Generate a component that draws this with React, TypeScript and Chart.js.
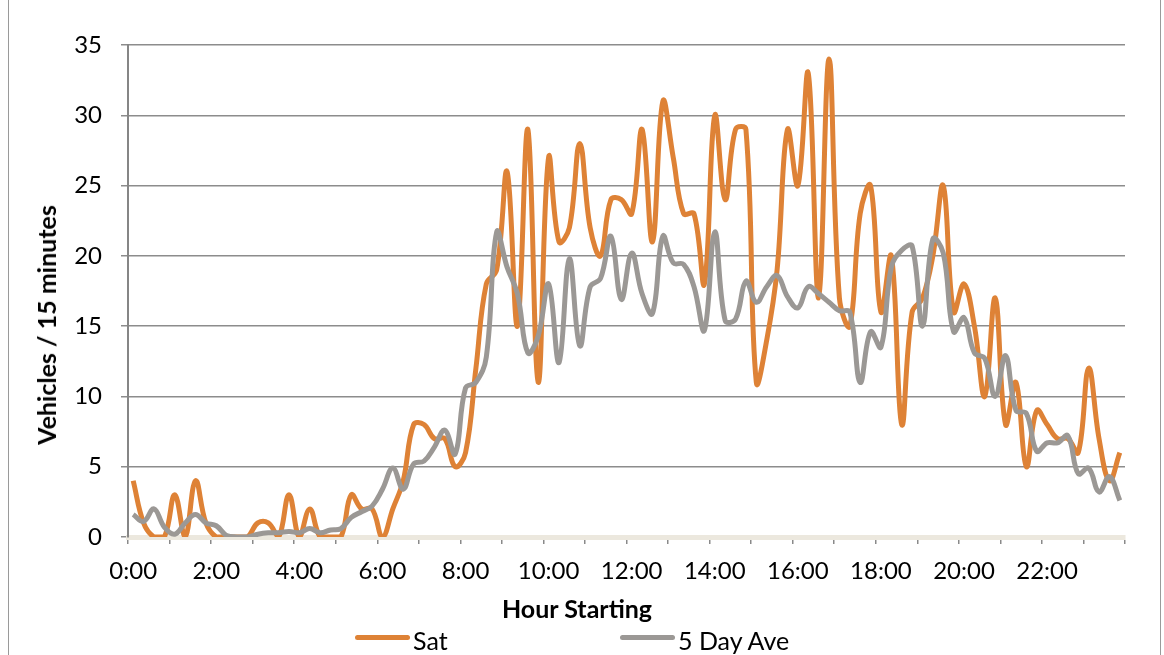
import React, { useEffect, useRef } from 'react';
import { Chart, registerables } from 'chart.js';

Chart.register(...registerables);

// 15-minute categories for one day
const hourLabels = ['0', '1', '2', '3', '4', '5', '6', '7', '8', '9', '10', '11', '12', '13', '14', '15', '16', '17', '18', '19', '20', '21', '22', '23'];
const quarterLabels = ['00', '15', '30', '45'];
const categories: string[] = [];
hourLabels.forEach((h) => quarterLabels.forEach((q) => categories.push(`${h}:${q}`)));

// Vehicles per 15 minutes, Saturday
const satValues = [
  4, 1, 0, 0, 3, 0, 4, 1, 0, 0,
  0, 0, 1, 1, 0, 3, 0, 2, 0, 0,
  0, 3, 2, 2, 0, 2, 4, 8, 8, 7,
  7, 5, 6, 12, 18, 19, 26, 15, 29, 11,
  27, 21, 22, 28, 22, 20, 24, 24, 23, 29,
  21, 31, 27, 23, 23, 18, 30, 24, 29, 29,
  11, 14, 19, 29, 25, 33, 17, 34, 17, 15,
  23, 25, 16, 20, 8, 16, 17, 20, 25, 16,
  18, 15, 10, 17, 8, 11, 5, 9, 8, 7,
  7, 6, 12, 7, 4, 6,
];

// Vehicles per 15 minutes, 5 day average
const fiveDayAveValues = [
  1.6, 1.1, 2.0, 0.7, 0.2, 1.0, 1.6, 1.0, 0.8, 0.1,
  0, 0, 0.2, 0.3, 0.3, 0.4, 0.3, 0.6, 0.3, 0.5,
  0.6, 1.4, 1.8, 2.2, 3.4, 4.9, 3.4, 5.2, 5.4, 6.4,
  7.6, 5.9, 10.6, 11.0, 12.8, 21.7, 19.2, 17.3, 13.1, 14.3,
  18.0, 12.4, 19.8, 13.6, 17.8, 18.4, 21.4, 16.9, 20.2, 17.3,
  15.9, 21.4, 19.5, 19.4, 17.8, 14.7, 21.7, 15.4, 15.5, 18.2,
  16.7, 17.8, 18.6, 17.1, 16.3, 17.8, 17.3, 16.7, 16.1, 16.0,
  11.0, 14.6, 13.5, 19.2, 20.4, 20.7, 15.0, 21.2, 20.2, 14.6,
  15.6, 13.1, 12.7, 10.0, 12.9, 9.0, 8.8, 6.1, 6.7, 6.7,
  7.2, 4.5, 4.9, 3.2, 4.3, 2.6,
];

const yTicks = [0, 5, 10, 15, 20, 25, 30, 35];
const seriesNames = ['Sat', '5 Day Ave'];
const xTitle = 'Hour Starting';
const yTitle = 'Vehicles / 15 minutes';

const ORANGE = '#DE8236';
const GRAY = '#9B9895';
const FONT = 'Lato, "Open Sans", sans-serif';

export default function App() {
  const canvasRef = useRef<HTMLCanvasElement | null>(null);

  useEffect(() => {
    if (!canvasRef.current) return;
    const chart = new Chart(canvasRef.current, {
      type: 'line',
      data: {
        labels: categories,
        datasets: [
          {
            label: seriesNames[0],
            data: satValues,
            borderColor: ORANGE,
            backgroundColor: ORANGE,
            borderWidth: 5,
            pointRadius: 0,
            tension: 0.4,
            fill: false,
            order: 1,
          },
          {
            label: seriesNames[1],
            data: fiveDayAveValues,
            borderColor: GRAY,
            backgroundColor: GRAY,
            borderWidth: 5,
            pointRadius: 0,
            tension: 0.4,
            fill: false,
            order: 0,
          },
        ],
      },
      options: {
        animation: false,
        responsive: false,
        maintainAspectRatio: false,
        layout: { padding: { left: 0, right: 39, top: 45, bottom: 0 } },
        plugins: {
          legend: { display: false },
          tooltip: { enabled: false },
        },
        scales: {
          x: {
            type: 'category',
            offset: true,
            z: 1,
            afterFit: (scale: any) => {
              scale.height = 118;
            },
            border: { display: true, color: '#ECE8DE', width: 5 },
            grid: {
              offset: true,
              drawOnChartArea: false,
              drawTicks: true,
              tickLength: 7,
              lineWidth: 1.5,
              color: (ctx: any) =>
                ctx.index === undefined || ctx.index % 4 === 0 ? '#8a8a8a' : 'rgba(0,0,0,0)',
            },
            ticks: {
              autoSkip: false,
              maxRotation: 0,
              minRotation: 0,
              padding: 13,
              color: '#000',
              font: { family: FONT, size: 24 },
              callback: (_v: any, index: number) => (index % 8 === 0 ? categories[index] : ''),
            },
          },
          y: {
            min: yTicks[0],
            max: yTicks[yTicks.length - 1],
            afterFit: (scale: any) => {
              scale.width = 128;
            },
            border: { display: true, color: '#868686', width: 2 },
            grid: {
              color: '#8c8c8c',
              lineWidth: 1.5,
              drawTicks: true,
              tickLength: 7,
            },
            ticks: {
              stepSize: 5,
              padding: 19,
              color: '#000',
              font: { family: FONT, size: 24 },
            },
          },
        },
      },
    });
    return () => chart.destroy();
  }, []);

  const textBase: React.CSSProperties = {
    position: 'absolute',
    fontFamily: FONT,
    color: '#000',
    whiteSpace: 'nowrap',
    lineHeight: '30px',
  };

  return (
    <div style={{ position: 'absolute', left: 0, top: 0, width: 1164, height: 655, background: '#fff', overflow: 'hidden' }}>
      <canvas ref={canvasRef} width={1164} height={655} style={{ position: 'absolute', left: 0, top: 0, width: 1164, height: 655 }} />
      <div style={{ position: 'absolute', left: 8, top: 0, width: 1, height: 655, background: '#9a9a9a' }} />
      <div style={{ position: 'absolute', left: 1160, top: 0, width: 1, height: 655, background: '#9a9a9a' }} />
      <div style={{ ...textBase, left: 577, top: 593, transform: 'translateX(-50%)', fontWeight: 700, fontSize: 25 }}>{xTitle}</div>
      <div style={{ ...textBase, left: 46, top: 325, transform: 'translate(-50%, -50%) rotate(-90deg)', fontWeight: 700, fontSize: 25 }}>{yTitle}</div>
      <div style={{ position: 'absolute', left: 355, top: 635, width: 55, height: 5, borderRadius: 3, background: ORANGE }} />
      <div style={{ ...textBase, left: 413, top: 625, fontSize: 25 }}>{seriesNames[0]}</div>
      <div style={{ position: 'absolute', left: 620, top: 635, width: 55, height: 5, borderRadius: 3, background: GRAY }} />
      <div style={{ ...textBase, left: 678, top: 625, fontSize: 25 }}>{seriesNames[1]}</div>
    </div>
  );
}
